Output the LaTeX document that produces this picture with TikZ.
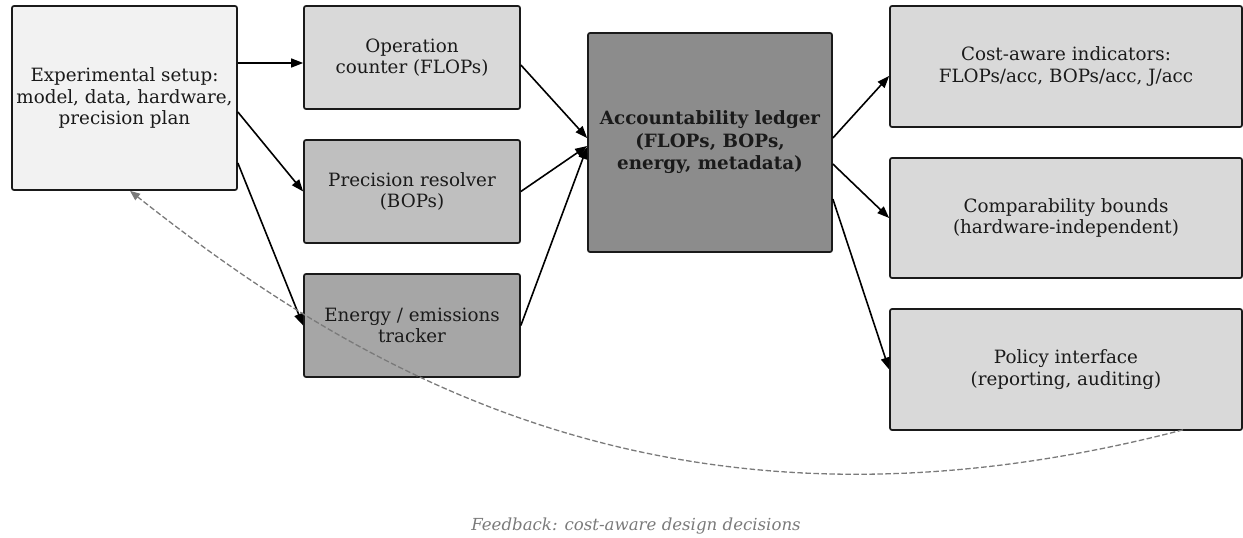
\documentclass[tikz,border=0pt]{standalone}
\usepackage{fontspec}
\setmainfont{DejaVu Serif}
\usetikzlibrary{arrows.meta,calc}

\definecolor{inkc}{HTML}{1A1A1A}
\definecolor{fillsetup}{HTML}{F2F2F2}
\definecolor{filllight}{HTML}{D9D9D9}
\definecolor{fillmid}{HTML}{BFBFBF}
\definecolor{filldark}{HTML}{A6A6A6}
\definecolor{fillcore}{HTML}{8C8C8C}
\definecolor{fbgray}{HTML}{7A7A7A}

\tikzset{
  box/.style={draw=inkc, line width=1.7pt, rounded corners=2pt, inner sep=0pt,
    align=center, text=inkc,
    font=\fontsize{18.3}{21.7}\selectfont},
  flow/.style={draw=black, line width=1.6pt, -{Triangle[length=12pt,width=9pt]}},
  feedback/.style={draw=fbgray, line width=1.3pt, dash pattern=on 5.5pt off 2.5pt,
    -{Triangle[length=10pt,width=8pt]}},
}

\begin{document}
\begin{tikzpicture}[x=1pt, y=-1pt]
  \useasboundingbox (0,0) rectangle (1243,538);

  % inputs
  \node[box, fill=fillsetup, minimum width=225pt, minimum height=184pt] (setup) at (124.5,98)
    {Experimental setup:\\model, data, hardware,\\precision plan};
  \node[box, fill=filllight, minimum width=216pt, minimum height=103pt] (ops) at (412,57.5)
    {Operation\\counter (FLOPs)};
  \node[box, fill=fillmid, minimum width=216pt, minimum height=103pt] (prec) at (412,191.5)
    {Precision resolver\\(BOPs)};
  \node[box, fill=filldark, minimum width=216pt, minimum height=103pt] (energy) at (412,325.5)
    {Energy / emissions\\tracker};

  % central ledger
  \node[box, fill=fillcore, minimum width=244pt, minimum height=219pt,
        font=\fontsize{18.3}{22.5}\selectfont\bfseries] (ledger) at (710,142.5)
    {Accountability ledger\\(FLOPs, BOPs,\\energy, metadata)};

  % outputs
  \node[box, fill=filllight, minimum width=352pt, minimum height=121pt] (indic) at (1066,66.5)
    {Cost-aware indicators:\\FLOPs/acc, BOPs/acc, J/acc};
  \node[box, fill=filllight, minimum width=352pt, minimum height=120pt] (bounds) at (1066,218)
    {Comparability bounds\\(hardware-independent)};
  \node[box, fill=filllight, minimum width=352pt, minimum height=121pt] (policy) at (1066,369.5)
    {Policy interface\\(reporting, auditing)};

  % forward flow
  \draw[flow] ([yshift=35pt]setup.east) -- ([yshift=-5.5pt]ops.west);
  \draw[flow] ([yshift=-14pt]setup.east) -- (prec.west);
  \draw[flow] ([yshift=-65pt]setup.east) -- (energy.west);
  \draw[flow] ([yshift=-7.5pt]ops.east) -- ([yshift=4.5pt]ledger.west);
  \draw[flow] (prec.east) -- ([yshift=-3.5pt]ledger.west);
  \draw[flow] (energy.east) -- ([yshift=-4.5pt]ledger.west);
  \draw[flow] ([yshift=4.5pt]ledger.east) -- ([yshift=-9.5pt]indic.west);
  \draw[flow] ([yshift=-21.5pt]ledger.east) -- (bounds.west);
  \draw[flow] ([yshift=-56.5pt]ledger.east) -- (policy.west);

  % feedback loop back to the setup
  \draw[feedback] ([xshift=117pt,yshift=1pt]policy.south)
    .. controls +(-500,130) and +(240,190) .. ([xshift=5.5pt]setup.south);

  \node[text=fbgray, font=\fontsize{16.6}{20}\selectfont\itshape] (fbnote) at (636,526)
    {Feedback: cost-aware design decisions};
\end{tikzpicture}
\end{document}
